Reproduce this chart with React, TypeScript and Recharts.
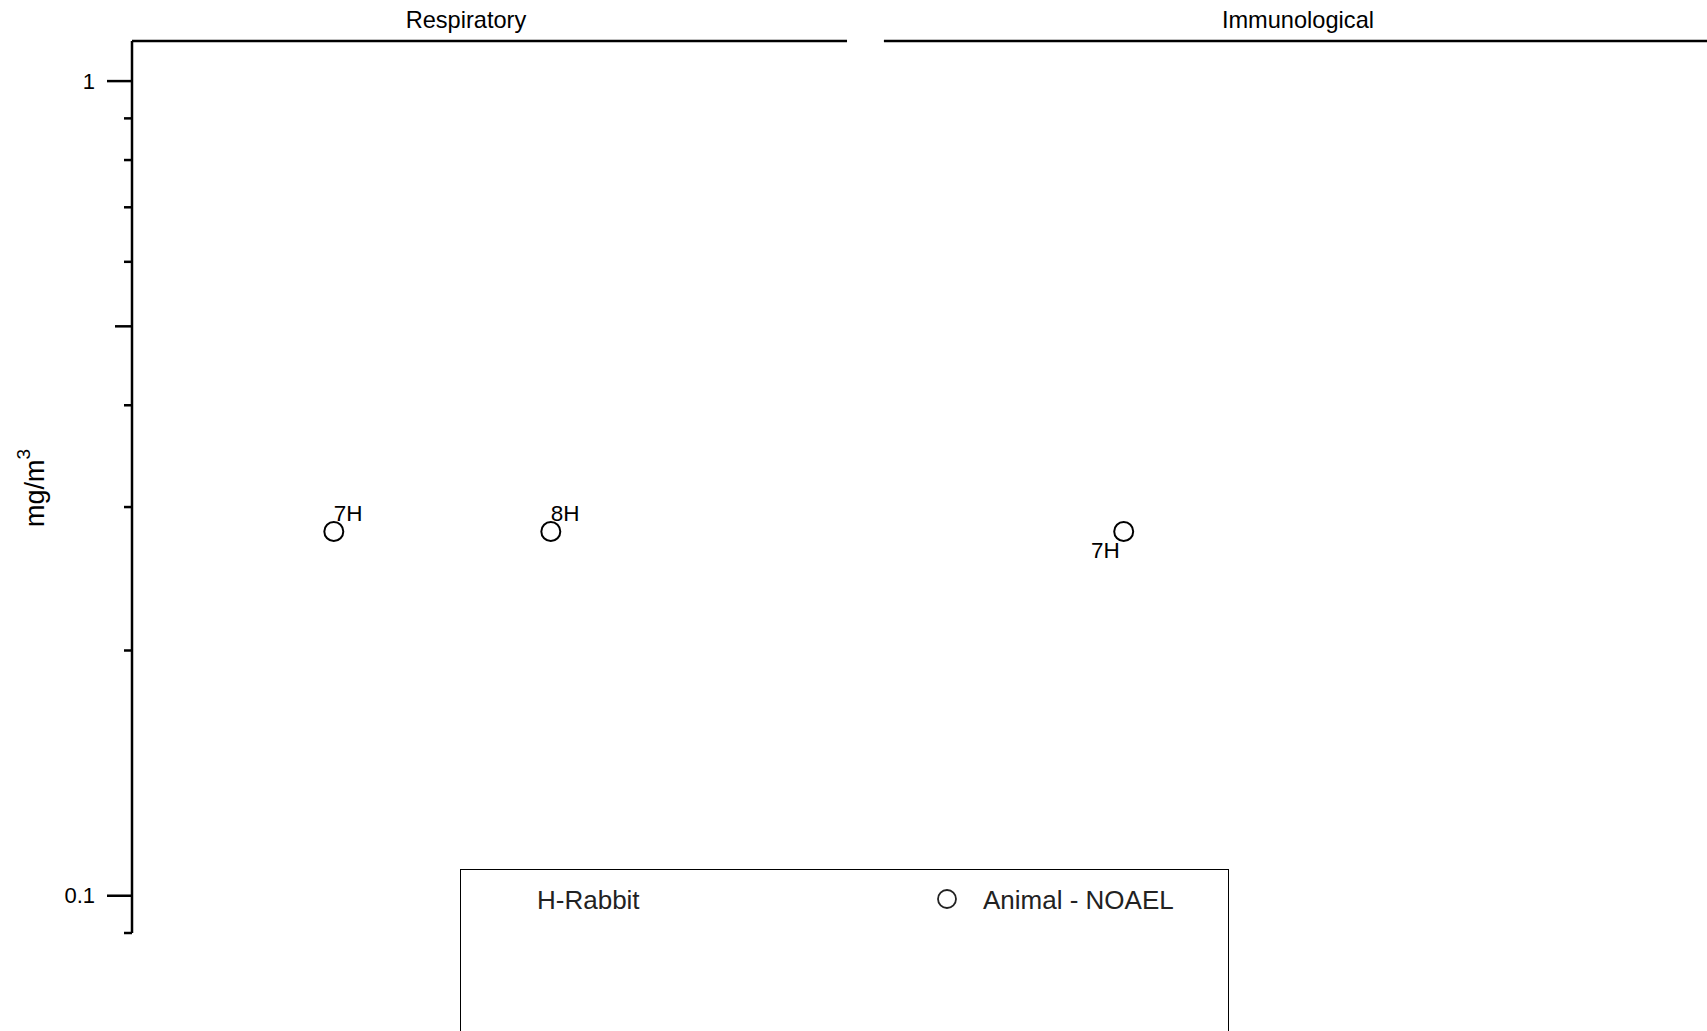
import React from 'react';
import {
  ScatterChart,
  Scatter,
  XAxis,
  YAxis,
  ReferenceLine,
  ReferenceDot,
} from 'recharts';

const FONT = '"Liberation Sans", Arial, Helvetica, sans-serif';

// Panels (organ systems) laid out along a shared study-position axis
const PANEL_NAMES = ['Respiratory', 'Immunological'];
const PANEL_FROM = [0, 3.465];
const PANEL_TO = [3.295, 7.258];
const PANEL_TITLE_AT = [1.539, 5.373];

// Respiratory endpoints (Animal - NOAEL)
const RESP_STUDIES = ['7H', '8H'];
const RESP_POS = [0.93, 1.93];
const RESP_VALUES = [0.28, 0.28];

// Immunological endpoints (Animal - NOAEL)
const IMMUNO_STUDIES = ['7H'];
const IMMUNO_POS = [4.57];
const IMMUNO_VALUES = [0.28];

// Log axis ticks
const Y_TICKS = [0.09, 0.1, 0.2, 0.3, 0.4, 0.5, 0.6, 0.7, 0.8, 0.9, 1];
const Y_LABELED = [0.1, 1];
const Y_MID = [0.5];
const Y_DOMAIN: [number, number] = [0.09, 1.12];
const X_DOMAIN: [number, number] = [0, 7.258];

const W = 1707;
const H = 1031;

const respData = RESP_STUDIES.map((s, i) => ({ study: s, pos: RESP_POS[i], value: RESP_VALUES[i] }));
const immunoData = IMMUNO_STUDIES.map((s, i) => ({ study: s, pos: IMMUNO_POS[i], value: IMMUNO_VALUES[i] }));

const YTick = (props: any) => {
  const { x, y, payload } = props;
  const v = payload.value;
  const major = Y_LABELED.includes(v);
  const len = major ? 25 : Y_MID.includes(v) ? 17 : 8;
  return (
    <g>
      <line x1={x - len} x2={x} y1={y} y2={y} stroke="#000" strokeWidth={2.5} />
      {major && (
        <text
          x={x - len - 12}
          y={y}
          textAnchor="end"
          dominantBaseline="central"
          fontSize={22}
          fontFamily={FONT}
          fill="#000"
        >
          {v}
        </text>
      )}
    </g>
  );
};

const ringAbove = (props: any) => {
  const { cx, cy, payload } = props;
  return (
    <g>
      <circle cx={cx} cy={cy} r={9.5} fill="none" stroke="#000" strokeWidth={2} />
      <text x={cx} y={cy - 10} fontSize={22.5} fontFamily={FONT} fill="#000">
        {payload.study}
      </text>
    </g>
  );
};

const ringBelowLeft = (props: any) => {
  const { cx, cy, payload } = props;
  return (
    <g>
      <circle cx={cx} cy={cy} r={9.5} fill="none" stroke="#000" strokeWidth={2} />
      <text x={cx - 4} y={cy + 27} textAnchor="end" fontSize={22.5} fontFamily={FONT} fill="#000">
        {payload.study}
      </text>
    </g>
  );
};

const yLabel = ({ viewBox }: any) => {
  const cx = viewBox.x + 35;
  const cy = viewBox.y + viewBox.height / 2 + 1;
  return (
    <text
      x={cx}
      y={cy}
      transform={`rotate(-90, ${cx}, ${cy})`}
      textAnchor="middle"
      dominantBaseline="central"
      fontSize={27}
      fontFamily={FONT}
      fill="#000"
    >
      mg/m<tspan dy={-12} fontSize={19}>3</tspan>
    </text>
  );
};

const titleLabel = (name: string) => ({ viewBox }: any) => (
  <text
    x={viewBox.x + viewBox.width / 2}
    y={viewBox.y - 21}
    textAnchor="middle"
    dominantBaseline="central"
    fontSize={23.6}
    fontFamily={FONT}
    fill="#000"
  >
    {name}
  </text>
);

export default function App() {
  return (
    <div
      style={{
        position: 'absolute',
        left: 0,
        top: 0,
        width: W,
        height: H,
        overflow: 'hidden',
        background: '#fff',
      }}
    >
      <ScatterChart width={W} height={H} margin={{ top: 41, right: 0, bottom: 98, left: 0 }}>
        <XAxis type="number" dataKey="pos" domain={X_DOMAIN} hide allowDataOverflow />
        <YAxis
          type="number"
          dataKey="value"
          scale="log"
          domain={Y_DOMAIN}
          allowDataOverflow
          ticks={Y_TICKS}
          interval={0}
          width={132}
          tickSize={0}
          tickMargin={0}
          tickLine={false}
          axisLine={{ stroke: '#000', strokeWidth: 2.5 }}
          tick={YTick}
          label={{ content: yLabel }}
        />
        {PANEL_NAMES.map((name, i) => (
          <ReferenceLine
            key={`line-${name}`}
            segment={[
              { x: PANEL_FROM[i], y: Y_DOMAIN[1] },
              { x: PANEL_TO[i], y: Y_DOMAIN[1] },
            ]}
            stroke="#000"
            strokeWidth={2.5}
            ifOverflow="visible"
          />
        ))}
        {PANEL_NAMES.map((name, i) => (
          <ReferenceDot
            key={`title-${name}`}
            x={PANEL_TITLE_AT[i]}
            y={Y_DOMAIN[1]}
            r={0}
            fill="none"
            stroke="none"
            ifOverflow="visible"
            label={{ content: titleLabel(name) }}
          />
        ))}
        <Scatter data={respData} shape={ringAbove} isAnimationActive={false} />
        <Scatter data={immunoData} shape={ringBelowLeft} isAnimationActive={false} />
      </ScatterChart>
      <div
        style={{
          position: 'absolute',
          left: 460,
          top: 869,
          width: 769,
          height: H - 869,
          boxSizing: 'border-box',
          border: '1.5px solid #000',
          borderBottom: 'none',
        }}
      >
        <svg width={769} height={H - 869} style={{ display: 'block' }}>
          <text x={76} y={39} fontSize={26} fontFamily={FONT} fill="#222">
            H-Rabbit
          </text>
          <circle cx={486} cy={29} r={9} fill="none" stroke="#222" strokeWidth={1.8} />
          <text x={522} y={39} fontSize={26} fontFamily={FONT} fill="#222">
            Animal - NOAEL
          </text>
        </svg>
      </div>
    </div>
  );
}
